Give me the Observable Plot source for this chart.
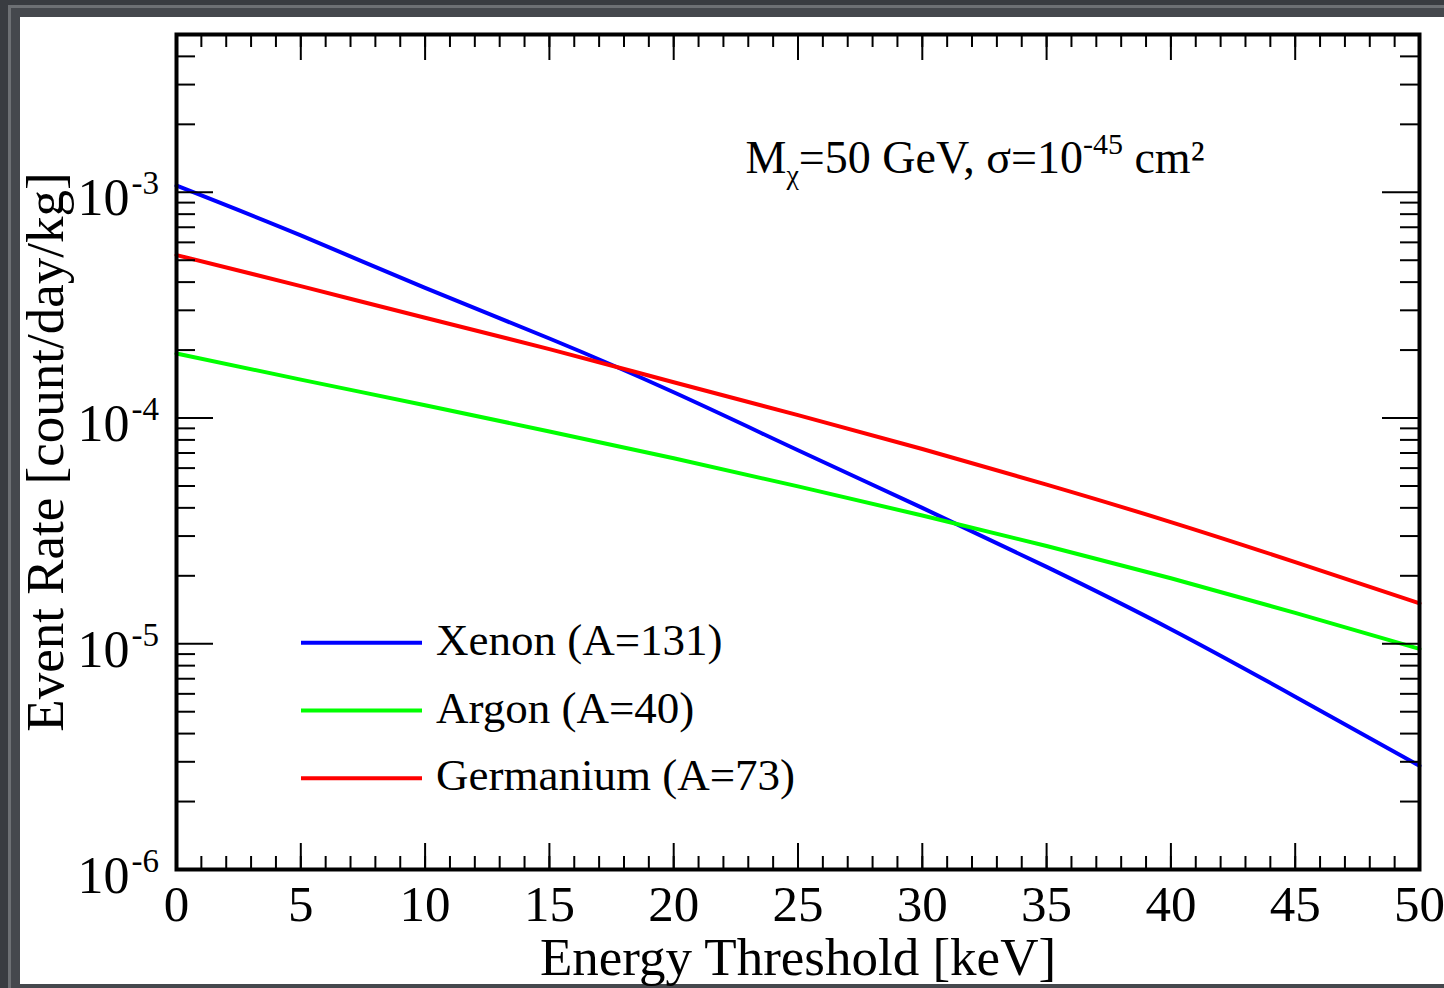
<!DOCTYPE html>
<html>
<head>
<meta charset="utf-8">
<script src="https://cdn.jsdelivr.net/npm/d3@7"></script>
<script src="https://cdn.jsdelivr.net/npm/@observablehq/plot@0.6"></script>
<style>
html, body { margin: 0; padding: 0; }
body { width: 1444px; height: 988px; background: #393c41; position: relative; overflow: hidden; }
#edge { position: absolute; left: 8px; top: 5px; width: 1460px; height: 990px; border: 3px solid #6d7074; box-sizing: border-box; background: #45484d; }
#panel { position: absolute; left: 20px; top: 17px; width: 1424px; height: 967px; background: #ffffff; }
#chart { position: absolute; left: 0; top: 0; width: 1444px; height: 988px; }
</style>
</head>
<body>
<div id="edge"></div>
<div id="panel"></div>
<div id="chart"></div>
<script>
// ---- data ----
const energy    = [0, 5, 10, 15, 20, 25, 30, 35, 40, 45, 50];
const xenon     = [1.07e-3, 6.44e-4, 3.77e-4, 2.25e-4, 1.30e-4, 7.20e-5, 4.00e-5, 2.19e-5, 1.16e-5, 5.83e-6, 2.88e-6];
const argon     = [1.93e-4, 1.48e-4, 1.14e-4, 8.72e-5, 6.63e-5, 4.98e-5, 3.70e-5, 2.71e-5, 1.95e-5, 1.37e-5, 9.49e-6];
const germanium = [5.27e-4, 3.84e-4, 2.78e-4, 2.02e-4, 1.44e-4, 1.03e-4, 7.29e-5, 5.07e-5, 3.46e-5, 2.30e-5, 1.51e-5];

const seriesNames  = ["Xenon (A=131)", "Argon (A=40)", "Germanium (A=73)"];
const seriesColors = ["#0000ff", "#00ff00", "#ff0000"];
const seriesValues = [xenon, argon, germanium];

const xMajorTicks = [0, 5, 10, 15, 20, 25, 30, 35, 40, 45, 50];
const xTickLabels = ["0", "5", "10", "15", "20", "25", "30", "35", "40", "45", "50"];
const xMinorTicks = d3.range(0, 51, 1);
const yMajorTicks = [1e-6, 1e-5, 1e-4, 1e-3];
const yTickExponents = ["-6", "-5", "-4", "-3"];
const yMinorTicks = [1e-6, 1e-5, 1e-4, 1e-3].flatMap(d => [2,3,4,5,6,7,8,9].map(k => k * d)).filter(v => v <= 5e-3);

const xTitle = "Energy Threshold [keV]";
const yTitle = "Event Rate [count/day/kg]";
const annotation = "Mχ=50 GeV, σ=10-45 cm²";

// ---- table ----
const table = energy.flatMap((e, i) => seriesNames.map((s, j) => ({energy: e, rate: seriesValues[j][i], series: s})));

// ---- layout ----
const W = 1444, H = 988, mT = 34, mB = 119, mL = 176, mR = 25;
const innerW = W - mL - mR, innerH = H - mT - mB;
const serif = "'Liberation Serif', 'Times New Roman', Times, serif";

const chart = Plot.plot({
  width: W, height: H,
  marginTop: mT, marginBottom: mB, marginLeft: mL, marginRight: mR,
  style: {background: "transparent", fontFamily: serif, overflow: "visible"},
  x: {domain: [0, 50], axis: null},
  y: {type: "log", domain: [1e-6, 5e-3], axis: null},
  color: {domain: seriesNames, range: seriesColors},
  marks: [
    Plot.line(table, {x: "energy", y: "rate", z: "series", stroke: "series", strokeWidth: 4, curve: "natural"}),
    // bottom & top ticks
    Plot.ruleX(xMinorTicks, {x: d => d, insetTop: innerH - 13, stroke: "black", strokeWidth: 2}),
    Plot.ruleX(xMajorTicks, {x: d => d, insetTop: innerH - 26, stroke: "black", strokeWidth: 2}),
    Plot.ruleX(xMinorTicks, {x: d => d, insetBottom: innerH - 13, stroke: "black", strokeWidth: 2}),
    Plot.ruleX(xMajorTicks, {x: d => d, insetBottom: innerH - 26, stroke: "black", strokeWidth: 2}),
    // left & right ticks
    Plot.ruleY(yMinorTicks, {y: d => d, insetRight: innerW - 19, stroke: "black", strokeWidth: 2}),
    Plot.ruleY(yMajorTicks, {y: d => d, insetRight: innerW - 37, stroke: "black", strokeWidth: 2}),
    Plot.ruleY(yMinorTicks, {y: d => d, insetLeft: innerW - 19, stroke: "black", strokeWidth: 2}),
    Plot.ruleY(yMajorTicks, {y: d => d, insetLeft: innerW - 37, stroke: "black", strokeWidth: 2}),
    Plot.frame({stroke: "black", strokeWidth: 4}),
    // x tick labels
    Plot.text(xMajorTicks, {x: d => d, text: (d, i) => xTickLabels[i], frameAnchor: "bottom", textAnchor: "middle", lineAnchor: "bottom", dy: 51, fontSize: 51, fill: "black"}),
    // y tick labels: 10 + exponent
    Plot.text(yMajorTicks, {y: d => d, text: () => "10", frameAnchor: "left", textAnchor: "end", lineAnchor: "bottom", dx: -47, dy: 23, fontSize: 52, fill: "black"}),
    Plot.text(yMajorTicks, {y: d => d, text: (d, i) => yTickExponents[i], frameAnchor: "left", textAnchor: "start", lineAnchor: "bottom", dx: -45, dy: 2, fontSize: 33, fill: "black"}),
    // axis titles
    Plot.text([xTitle], {frameAnchor: "bottom", textAnchor: "middle", lineAnchor: "bottom", dy: 105, fontSize: 53, fill: "black"}),
    Plot.text([yTitle], {frameAnchor: "left", textAnchor: "middle", rotate: -90, lineAnchor: "bottom", dx: -114, fontSize: 53, fill: "black"}),
    // annotation
    Plot.text([annotation], {frameAnchor: "top-left", textAnchor: "start", lineAnchor: "bottom", dx: 569, dy: 138, fontSize: 46, fill: "black"})
  ]
});

document.getElementById("chart").appendChild(chart);

// rich-text annotation: subscript χ and superscript -45
d3.select(chart).selectAll("text").each(function() {
  if (this.textContent === annotation) {
    const t = d3.select(this);
    t.text(null);
    const parts = [
      {s: "M", size: 46, dy: 0},
      {s: "χ", size: 28, dy: 11},
      {s: "=50 GeV, σ=10", size: 46, dy: -11},
      {s: "-45", size: 30, dy: -19},
      {s: " cm²", size: 46, dy: 19}
    ];
    parts.forEach(p => t.append("tspan").attr("font-size", p.size).attr("dy", p.dy).text(p.s));
  }
});

// legend inside the frame
const lg = d3.select(chart).append("g").attr("font-family", serif).attr("font-size", 45).attr("text-anchor", "start");
seriesNames.forEach((name, i) => {
  const y = 642.7 + i * 67.8;
  lg.append("line").attr("x1", 301).attr("x2", 422).attr("y1", y).attr("y2", y)
    .attr("stroke", seriesColors[i]).attr("stroke-width", 4);
  lg.append("text").attr("x", 436).attr("y", y + 12).attr("text-anchor", "start").attr("fill", "black").text(name);
});
</script>
</body>
</html>
